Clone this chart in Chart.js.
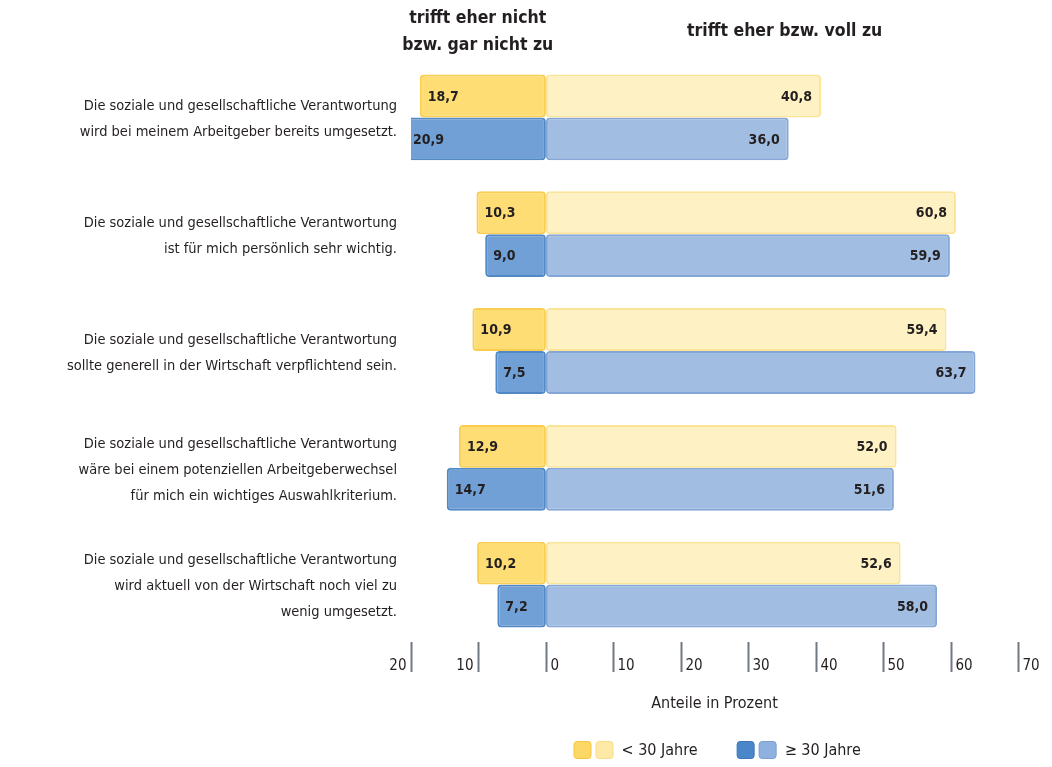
<!DOCTYPE html>
<html lang="de">
<head>
<meta charset="utf-8">
<title>Verantwortung – Zustimmung nach Alter</title>
<script src="https://cdn.jsdelivr.net/npm/chart.js@4.4.1/dist/chart.umd.min.js"></script>
<style>
  html, body { margin: 0; padding: 0; background: #ffffff; }
  #wrap { position: relative; width: 1052px; height: 767px; }
</style>
</head>
<body>
<div id="wrap"><canvas id="chart" width="1052" height="767"></canvas></div>
<script>
// Aussagen (mehrzeilig beschriftet)
const statements = [
  ['Die soziale und gesellschaftliche Verantwortung', 'wird bei meinem Arbeitgeber bereits umgesetzt.'],
  ['Die soziale und gesellschaftliche Verantwortung', 'ist für mich persönlich sehr wichtig.'],
  ['Die soziale und gesellschaftliche Verantwortung', 'sollte generell in der Wirtschaft verpflichtend sein.'],
  ['Die soziale und gesellschaftliche Verantwortung', 'wäre bei einem potenziellen Arbeitgeberwechsel', 'für mich ein wichtiges Auswahlkriterium.'],
  ['Die soziale und gesellschaftliche Verantwortung', 'wird aktuell von der Wirtschaft noch viel zu', 'wenig umgesetzt.']
];

// Anteile in Prozent: "trifft eher nicht bzw. gar nicht zu" / "trifft eher bzw. voll zu"
const youngDisagree = [18.7, 10.3, 10.9, 12.9, 10.2];
const youngAgree    = [40.8, 60.8, 59.4, 52.0, 52.6];
const olderDisagree = [20.9, 9.0, 7.5, 14.7, 7.2];
const olderAgree    = [36.0, 59.9, 63.7, 51.6, 58.0];

// Achsenbeschriftung
const axisTicks = [-20, -10, 0, 10, 20, 30, 40, 50, 60, 70];
const headerDisagree = ['trifft eher nicht', 'bzw. gar nicht zu'];
const headerAgree = 'trifft eher bzw. voll zu';
const legendItems = [
  { label: '< 30 Jahre', colors: ['#FDD867', '#FEE9A6'], borders: ['#F6C63F', '#F9DC86'] },
  { label: '\u2265 30 Jahre', colors: ['#4A87C8', '#8FB1DF'], borders: ['#3A76B8', '#7A9FD3'] }
];

const FONT = "'Liberation Sans Narrow', 'DejaVu Sans Condensed', 'Arial Narrow', sans-serif";
const TEXT = '#231f20';

const fmt = v => v.toFixed(1).replace('.', ',');

// Werte in die Balken schreiben
const valueLabels = {
  id: 'valueLabels',
  afterDatasetsDraw(chart) {
    const ctx = chart.ctx;
    ctx.save();
    ctx.font = 'bold 14px ' + FONT;
    ctx.fillStyle = TEXT;
    ctx.textBaseline = 'middle';
    chart.data.datasets.forEach((ds, di) => {
      const meta = chart.getDatasetMeta(di);
      meta.data.forEach((bar, i) => {
        const v = ds.data[i];
        const txt = fmt(Math.abs(v));
        if (v < 0) {
          ctx.textAlign = 'left';
          ctx.fillText(txt, bar.x + 8, bar.y + 1);
        } else {
          ctx.textAlign = 'right';
          ctx.fillText(txt, bar.x - 9, bar.y + 1);
        }
      });
    });
    ctx.restore();
  }
};

// Skalenstriche unter dem Diagramm, Überschriften und Legende
const decorations = {
  id: 'decorations',
  afterDraw(chart) {
    const ctx = chart.ctx;
    const xs = chart.scales.x;
    const area = chart.chartArea;
    ctx.save();

    // Skalenstriche mit Beschriftung (links vom Strich für negative Werte)
    ctx.font = '15px ' + FONT;
    ctx.fillStyle = TEXT;
    ctx.textBaseline = 'middle';
    axisTicks.forEach(t => {
      const px = Math.round(xs.getPixelForValue(t)) + 0.5;
      ctx.strokeStyle = '#707880';
      ctx.lineWidth = 2;
      ctx.beginPath();
      ctx.moveTo(px, area.bottom - 1);
      ctx.lineTo(px, area.bottom + 29);
      ctx.stroke();
      if (t < 0) {
        ctx.textAlign = 'right';
        ctx.fillText(String(Math.abs(t)), px - 5, area.bottom + 23);
      } else {
        ctx.textAlign = 'left';
        ctx.fillText(String(t), px + 4, area.bottom + 23);
      }
    });

    // Überschriften
    ctx.font = 'bold 17.5px ' + FONT;
    ctx.textAlign = 'center';
    const cxNeg = xs.getPixelForValue(-10.1);
    ctx.fillText(headerDisagree[0], cxNeg, 18);
    ctx.fillText(headerDisagree[1], cxNeg, 45);
    ctx.fillText(headerAgree, xs.getPixelForValue(35.4), 31);

    // Legende
    const cx = (xs.left + xs.right) / 2;
    ctx.font = '16px ' + FONT;
    ctx.textAlign = 'left';
    let x = cx - 141;
    const y = 741;
    legendItems.forEach(item => {
      item.colors.forEach((c, k) => {
        ctx.fillStyle = c;
        ctx.strokeStyle = item.borders[k];
        ctx.lineWidth = 1;
        ctx.beginPath();
        ctx.roundRect(x + 0.5, y + 0.5, 17, 17, 3);
        ctx.fill();
        ctx.stroke();
        x += 22;
      });
      ctx.fillStyle = TEXT;
      ctx.fillText(item.label, x + 4, y + 10);
      x += ctx.measureText(item.label).width + 43;
    });
    ctx.restore();
  }
};

const barCommon = {
  borderWidth: 2,
  borderRadius: 4,
  borderSkipped: false,
  barPercentage: 1.0,
  categoryPercentage: 0.735
};

new Chart(document.getElementById('chart'), {
  type: 'bar',
  data: {
    labels: statements,
    datasets: [
      Object.assign({ label: '< 30 Jahre (trifft nicht zu)', stack: 'young',
        data: youngDisagree.map(v => -v), backgroundColor: '#FFDD75', borderColor: '#F8CD50' }, barCommon),
      Object.assign({ label: '< 30 Jahre (trifft zu)', stack: 'young',
        data: youngAgree, backgroundColor: '#FEF1C3', borderColor: '#FCE496' }, barCommon),
      Object.assign({ label: '\u2265 30 Jahre (trifft nicht zu)', stack: 'older',
        data: olderDisagree.map(v => -v), backgroundColor: '#70A0D5', borderColor: '#5189C6' }, barCommon),
      Object.assign({ label: '\u2265 30 Jahre (trifft zu)', stack: 'older',
        data: olderAgree, backgroundColor: '#A1BDE2', borderColor: '#84A7D8' }, barCommon)
    ]
  },
  options: {
    indexAxis: 'y',
    responsive: false,
    animation: false,
    layout: { padding: { top: 59, right: 34, bottom: 0, left: 0 } },
    plugins: {
      legend: { display: false },
      tooltip: { enabled: false }
    },
    scales: {
      x: {
        stacked: true,
        min: -20,
        max: 70,
        grid: { display: false },
        border: { display: false },
        ticks: { display: false },
        title: {
          display: true,
          text: 'Anteile in Prozent',
          color: TEXT,
          font: { family: FONT, size: 16 },
          padding: { top: 0, bottom: 54 }
        },
        afterFit(scale) { scale.height = 124; }
      },
      y: {
        grid: { display: false, drawTicks: false },
        border: { display: false },
        ticks: {
          color: TEXT,
          padding: 14,
          labelOffset: 2,
          font: { family: FONT, size: 14.5, lineHeight: '26px' }
        },
        afterFit(scale) { scale.width = 411; }
      }
    }
  },
  plugins: [valueLabels, decorations]
});
</script>
</body>
</html>
